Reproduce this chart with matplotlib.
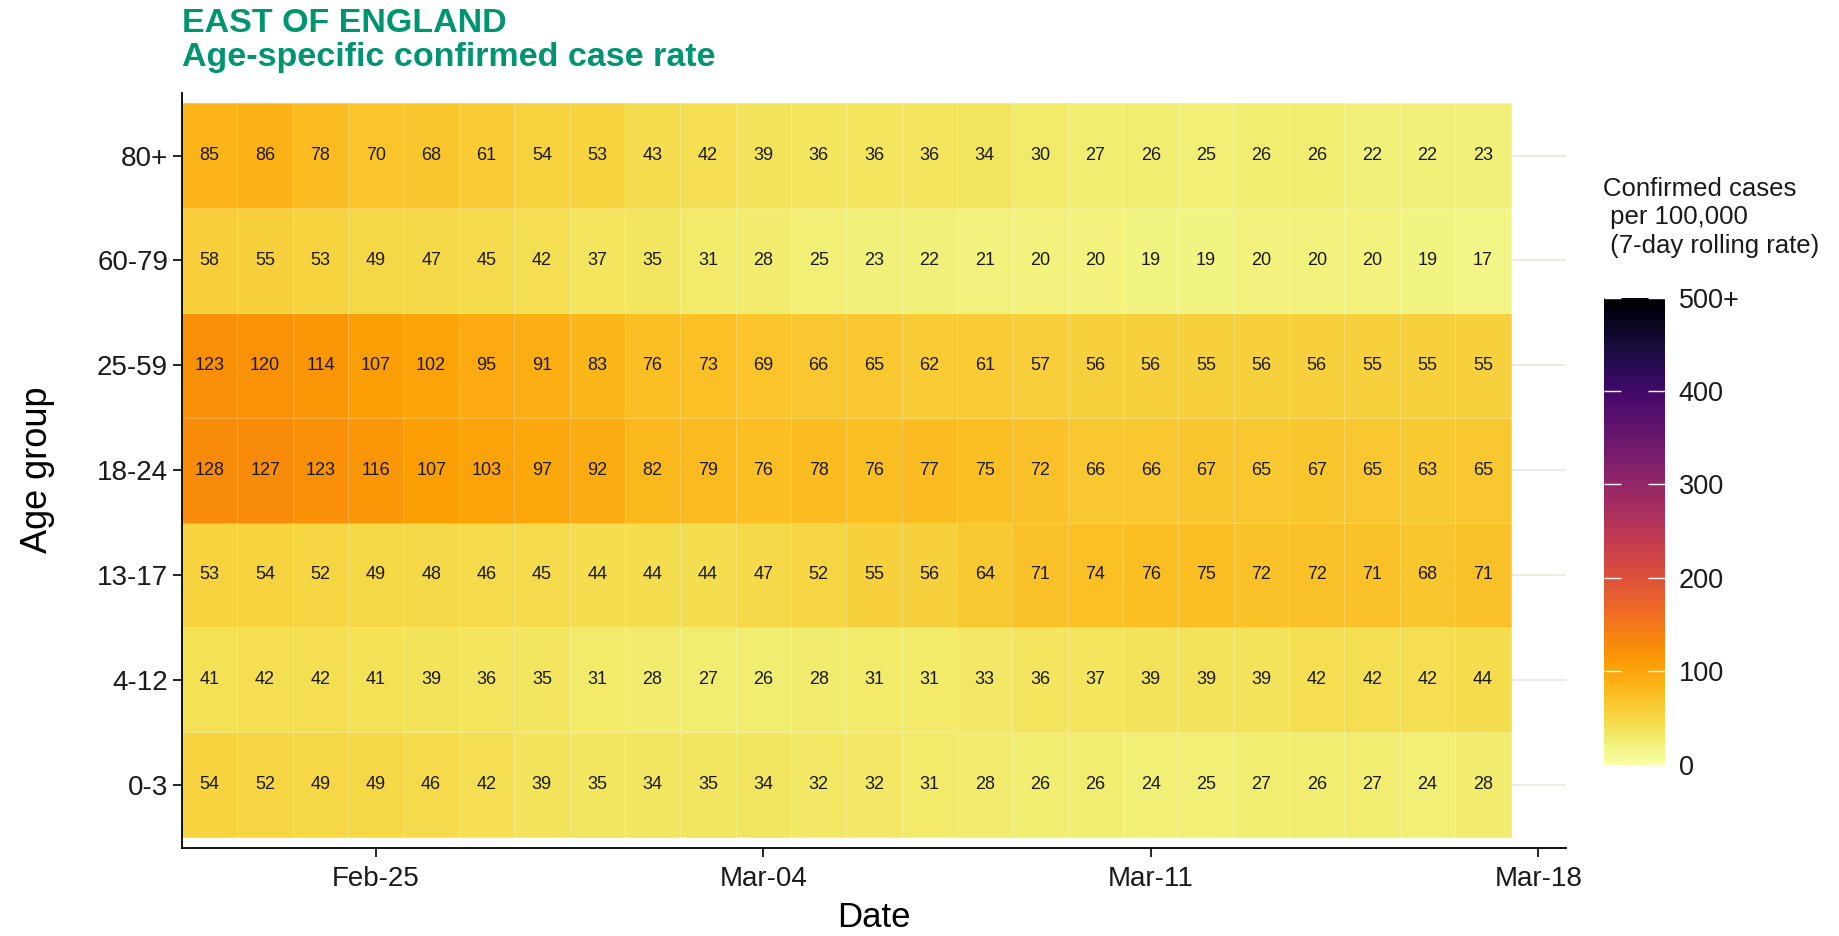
import numpy as np
import pandas as pd
import matplotlib
matplotlib.use("Agg")
import matplotlib.pyplot as plt
import matplotlib.dates as mdates
from matplotlib.colors import Normalize

plt.rcParams['font.family'] = ['Liberation Sans', 'DejaVu Sans']

start_date = "2021-02-22"
n_days = 24
age_groups = ["0-3", "4-12", "13-17", "18-24", "25-59", "60-79", "80+"]

rate_0_3 = [54, 52, 49, 49, 46, 42, 39, 35, 34, 35, 34, 32, 32, 31, 28, 26, 26, 24, 25, 27, 26, 27, 24, 28]
rate_4_12 = [41, 42, 42, 41, 39, 36, 35, 31, 28, 27, 26, 28, 31, 31, 33, 36, 37, 39, 39, 39, 42, 42, 42, 44]
rate_13_17 = [53, 54, 52, 49, 48, 46, 45, 44, 44, 44, 47, 52, 55, 56, 64, 71, 74, 76, 75, 72, 72, 71, 68, 71]
rate_18_24 = [128, 127, 123, 116, 107, 103, 97, 92, 82, 79, 76, 78, 76, 77, 75, 72, 66, 66, 67, 65, 67, 65, 63, 65]
rate_25_59 = [123, 120, 114, 107, 102, 95, 91, 83, 76, 73, 69, 66, 65, 62, 61, 57, 56, 56, 55, 56, 56, 55, 55, 55]
rate_60_79 = [58, 55, 53, 49, 47, 45, 42, 37, 35, 31, 28, 25, 23, 22, 21, 20, 20, 19, 19, 20, 20, 20, 19, 17]
rate_80p = [85, 86, 78, 70, 68, 61, 54, 53, 43, 42, 39, 36, 36, 36, 34, 30, 27, 26, 25, 26, 26, 22, 22, 23]

tick_dates = ["2021-02-25", "2021-03-04", "2021-03-11", "2021-03-18"]
cbar_ticks = [0, 100, 200, 300, 400, 500]
cbar_labels = ["0", "100", "200", "300", "400", "500+"]

values = np.array([rate_0_3, rate_4_12, rate_13_17, rate_18_24, rate_25_59, rate_60_79, rate_80p])
dates = pd.date_range(start_date, periods=n_days)
xnum = mdates.date2num(dates)
x_edges = np.append(xnum - 0.5, xnum[-1] + 0.5)
y_edges = np.arange(len(age_groups) + 1) - 0.5

fig = plt.figure(figsize=(18.39, 9.36), dpi=100)
ax = fig.add_axes([0.099, 0.0945, 0.7525, 0.8065])

norm = Normalize(vmin=0, vmax=500)
cmap = plt.get_cmap('inferno_r')

ax.set_axisbelow(True)
ax.yaxis.grid(True, color='#ebebe0', linewidth=1.5)
ax.xaxis.grid(False)

mesh = ax.pcolormesh(x_edges, y_edges, values, cmap=cmap, norm=norm,
                     edgecolors=(1, 1, 1, 0.25), linewidth=0.6, zorder=2)

for i in range(values.shape[0]):
    for j in range(values.shape[1]):
        ax.text(xnum[j], i, str(values[i, j]), ha='center', va='center',
                fontsize=13, color='#1a1a1a', zorder=3)

ax.set_xlim(xnum[0] - 0.5, xnum[-1] + 1.5)
ax.set_ylim(-0.6, len(age_groups) - 0.4)
ax.set_yticks(range(len(age_groups)))
ax.set_yticklabels(age_groups)
ax.set_xticks(mdates.date2num(pd.to_datetime(tick_dates)))
ax.xaxis.set_major_formatter(mdates.DateFormatter('%b-%d'))

for s in ['top', 'right']:
    ax.spines[s].set_visible(False)
for s in ['left', 'bottom']:
    ax.spines[s].set_linewidth(1.3)
    ax.spines[s].set_color('black')

ax.tick_params(axis='y', length=6.5, width=1.2, pad=3.5, labelsize=20, colors='black')
ax.tick_params(axis='x', length=6.5, width=1.2, pad=7, labelsize=20, colors='black')
for t in ax.get_xticklabels() + ax.get_yticklabels():
    t.set_color('#1a1a1a')
ax.set_xlabel('Date', fontsize=25, labelpad=6)
ax.set_ylabel('Age group', fontsize=26, labelpad=30)

fig.text(0.099, 0.975, 'EAST OF ENGLAND', fontsize=24.5, fontweight='bold',
         color='#009473', ha='left', va='center')
fig.text(0.099, 0.939, 'Age-specific confirmed case rate', fontsize=24.5, fontweight='bold',
         color='#009473', ha='left', va='center')

cax = fig.add_axes([0.872, 0.183, 0.0332, 0.499])
cb = fig.colorbar(mesh, cax=cax, ticks=cbar_ticks)
cb.ax.set_yticklabels(cbar_labels)
cb.outline.set_visible(False)
cb.ax.tick_params(left=True, right=True, direction='in', length=12, width=1,
                  color='white', labelsize=19.5, pad=10)
for t in cb.ax.get_yticklabels():
    t.set_color('#1a1a1a')
fig.text(0.8715, 0.811, 'Confirmed cases\n per 100,000\n (7-day rolling rate)',
         fontsize=18.5, ha='left', va='top', linespacing=1.23, color='#1a1a1a')

fig.savefig('out.png', dpi=100)
